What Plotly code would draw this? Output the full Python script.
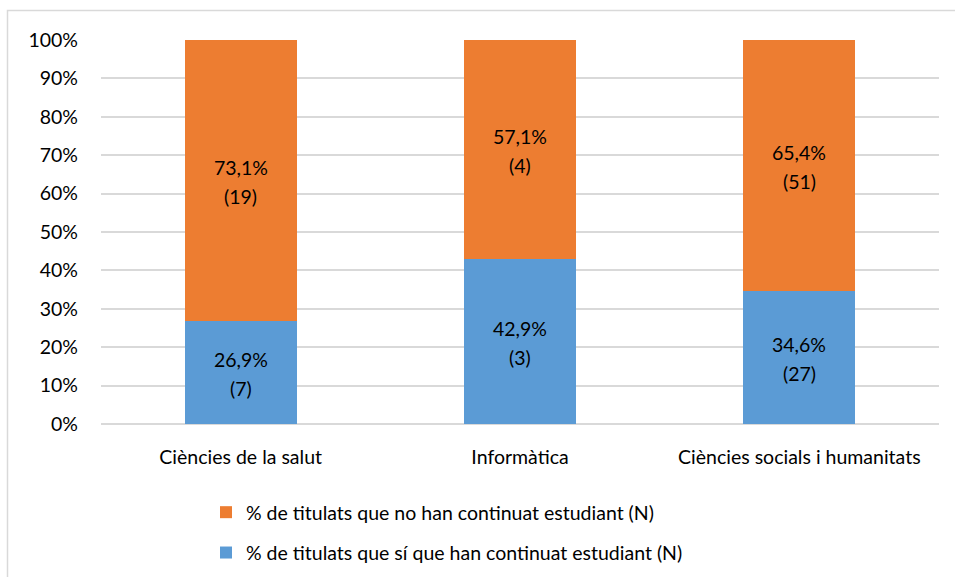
import plotly.graph_objects as go

# Categories and values
categories = ["Ciències de la salut", "Informàtica", "Ciències socials i humanitats"]
pct_si = [26.9, 42.9, 34.6]        # % que sí que han continuat estudiant
pct_no = [73.1, 57.1, 65.4]        # % que no han continuat estudiant
n_si = [7, 3, 27]
n_no = [19, 4, 51]
y_ticks = [0, 10, 20, 30, 40, 50, 60, 70, 80, 90, 100]
y_tick_labels = [f"{v}%" for v in y_ticks]

name_no = "% de titulats que no han continuat estudiant (N)"
name_si = "% de titulats que sí que han continuat estudiant (N)"

BLUE = "#5B9BD5"
ORANGE = "#ED7D31"
GRID = "#D9D9D9"
FONT = "Lato, Liberation Sans, sans-serif"
FS = 19.5

W, H = 955, 577
ML, MR, MT, MB = 101, 16, 40, 153

fig = go.Figure()
fig.add_trace(go.Bar(
    x=categories, y=pct_si, name=name_si, marker_color=BLUE,
    marker_line_width=0, width=0.4, legendgroup="si", legendrank=2,
))
fig.add_trace(go.Bar(
    x=categories, y=pct_no, name=name_no, marker_color=ORANGE,
    marker_line_width=0, width=0.4, legendgroup="no", legendrank=1,
))

def fmt(v):
    return f"{v:.1f}".replace(".", ",") + "%"

# Two-line data labels centred in each segment
annotations = []
for i, cat in enumerate(categories):
    segs = [(0, pct_si[i], n_si[i]), (pct_si[i], pct_no[i], n_no[i])]
    for base, val, n in segs:
        mid = base + val / 2
        annotations.append(dict(
            x=cat, y=mid, text=fmt(val), showarrow=False,
            yshift=13, font=dict(family=FONT, size=FS, color="#000000"),
        ))
        annotations.append(dict(
            x=cat, y=mid, text=f"({n})", showarrow=False,
            yshift=-16, font=dict(family=FONT, size=FS, color="#000000"),
        ))

# Outer chart frame (left and top edges visible)
pw, ph = W - ML - MR, H - MT - MB
def px_x(p):
    return (p - ML) / pw
def px_y(p):
    return (H - MB - p) / ph

shapes = [dict(
    type="rect", xref="paper", yref="paper",
    x0=px_x(7.5), x1=px_x(W + 40), y0=px_y(H + 40), y1=px_y(10.5),
    line=dict(color=GRID, width=1.5), fillcolor="rgba(0,0,0,0)", layer="below",
)]

fig.update_layout(
    width=W, height=H,
    margin=dict(l=ML, r=MR, t=MT, b=MB, pad=0, autoexpand=False),
    barmode="stack",
    plot_bgcolor="white", paper_bgcolor="white",
    font=dict(family=FONT, size=FS, color="#000000"),
    showlegend=True,
    legend=dict(
        orientation="v", traceorder="grouped", tracegroupgap=12,
        xref="container", yref="container",
        x=206 / W, xanchor="left", y=1 - 493 / H, yanchor="top",
        font=dict(family=FONT, size=FS, color="#000000"),
        itemwidth=30, bgcolor="rgba(0,0,0,0)",
    ),
    annotations=annotations,
    shapes=shapes,
)
fig.update_xaxes(
    showgrid=False, showline=False, zeroline=False,
    ticks="", ticklabelstandoff=19,
    tickfont=dict(family=FONT, size=FS, color="#000000"),
)
fig.update_yaxes(
    range=[0, 100], tickvals=y_ticks, ticktext=y_tick_labels,
    showgrid=True, gridcolor=GRID, gridwidth=1.5,
    zeroline=True, zerolinecolor=GRID, zerolinewidth=1.5,
    showline=False, ticks="", ticklabelstandoff=22,
    tickfont=dict(family=FONT, size=FS, color="#000000"),
)

fig.write_html("out.html")
